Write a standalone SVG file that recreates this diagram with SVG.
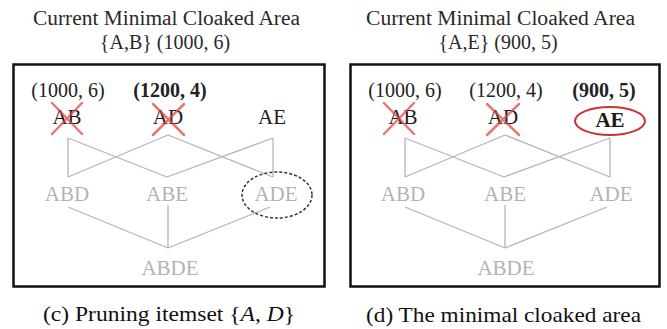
<svg xmlns="http://www.w3.org/2000/svg" width="667" height="329" viewBox="0 0 667 329">
<style>
text{font-family:"Liberation Serif","Times New Roman",serif;text-anchor:middle}
.title{font-size:20px;fill:#2a2a2a}
.cap{font-size:21px;fill:#111}
.lbl{font-size:21px;fill:#1a1a1a}
.val{font-size:20px;fill:#222}
.b{font-weight:bold}
.gray{font-size:21px;fill:#b3b3b3}
.edge{stroke:#b5b5b5;stroke-width:1.3;fill:none}
.box{fill:none;stroke:#111;stroke-width:2.5}
.x{stroke:#e04848;stroke-width:2.5;stroke-opacity:0.75;stroke-linecap:round}
.dash{fill:none;stroke:#333;stroke-width:1.5;stroke-dasharray:3 2}
.red{fill:none;stroke:#cc3333;stroke-width:2}
</style>
<rect width="667" height="329" fill="#fff"/>
<g id="panel-c">
  <text class="title" x="166.5" y="25" textLength="267" lengthAdjust="spacingAndGlyphs">Current Minimal Cloaked Area</text>
  <text class="title" x="165" y="49">{A,B} (1000, 6)</text>
  <rect class="box" x="13.5" y="64.5" width="311" height="222"/>
  <g id="c-connectors">
    <path class="edge" d="M68 138V177M68 138L167 177M168 135L68 177M168 135L273 177M273 138V177M273 138L167 177M68 207L168 248M168 205V248M270 207L168 248"/>
  </g>
  <g id="c-AB">
    <text class="val" x="68" y="97">(1000, 6)</text>
    <text class="lbl" x="67" y="124">AB</text>
    <path class="x" d="M52 103L82 134M82 103L52 134"/>
  </g>
  <g id="c-AD">
    <text class="val b" x="170" y="97">(1200, 4)</text>
    <text class="lbl" x="168" y="124">AD</text>
    <path class="x" d="M153 104L184 135M184 104L153 135"/>
  </g>
  <g id="c-AE">
    <text class="lbl" x="272" y="124">AE</text>
  </g>
  <g id="c-ABD"><text class="gray" x="67" y="201">ABD</text></g>
  <g id="c-ABE"><text class="gray" x="167" y="201">ABE</text></g>
  <g id="c-ADE">
    <text class="gray" x="276" y="201">ADE</text>
    <ellipse class="dash" cx="277" cy="195" rx="35" ry="23"/>
  </g>
  <g id="c-ABDE"><text class="gray" x="170" y="275">ABDE</text></g>
  <text class="cap" x="169" y="321" textLength="252" lengthAdjust="spacingAndGlyphs">(c) Pruning itemset {<tspan font-style="italic">A</tspan>, <tspan font-style="italic">D</tspan>}</text>
</g>
<g id="panel-d">
  <text class="title" x="500.5" y="25" textLength="269" lengthAdjust="spacingAndGlyphs">Current Minimal Cloaked Area</text>
  <text class="title" x="498" y="49">{A,E} (900, 5)</text>
  <rect class="box" x="350.5" y="64.5" width="309" height="222"/>
  <g id="d-connectors">
    <path class="edge" d="M405 138V177M405 138L504 177M505 135L405 177M505 135L610 177M610 138V177M610 138L504 177M405 207L505 248M505 205V248M607 207L505 248"/>
  </g>
  <g id="d-AB">
    <text class="val" x="405" y="97">(1000, 6)</text>
    <text class="lbl" x="403" y="124">AB</text>
    <path class="x" d="M384 103L414 134M414 103L384 134"/>
  </g>
  <g id="d-AD">
    <text class="val" x="506" y="97">(1200, 4)</text>
    <text class="lbl" x="503" y="124">AD</text>
    <path class="x" d="M487 104L519 135M519 104L487 135"/>
  </g>
  <g id="d-AE">
    <text class="val b" x="604" y="97">(900, 5)</text>
    <text class="lbl b" x="610" y="127">AE</text>
    <ellipse class="red" cx="610" cy="121" rx="35" ry="14"/>
  </g>
  <g id="d-ABD"><text class="gray" x="403" y="201">ABD</text></g>
  <g id="d-ABE"><text class="gray" x="505" y="201">ABE</text></g>
  <g id="d-ADE"><text class="gray" x="611" y="201">ADE</text></g>
  <g id="d-ABDE"><text class="gray" x="506" y="275">ABDE</text></g>
  <text class="cap" x="503.5" y="322" textLength="275" lengthAdjust="spacingAndGlyphs">(d) The minimal cloaked area</text>
</g>
</svg>
